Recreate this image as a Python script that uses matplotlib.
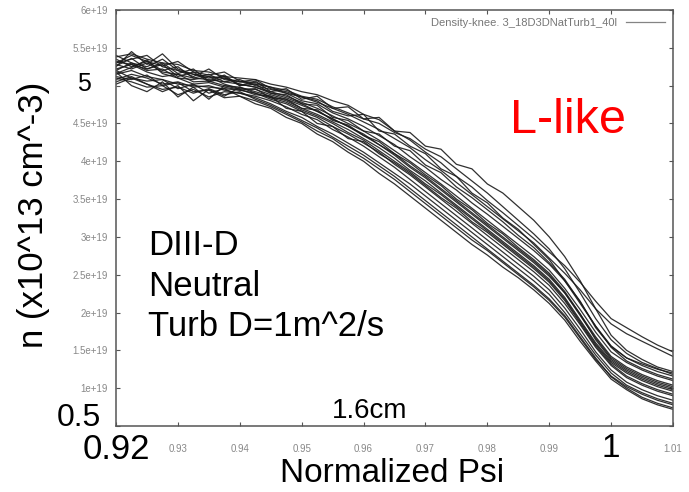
import matplotlib
matplotlib.use("Agg")
import matplotlib.pyplot as plt

plt.rcParams['font.family'] = ['Liberation Sans', 'DejaVu Sans']

# normalized psi grid shared by all profiles
psi = [0.9200, 0.9225, 0.9250, 0.9275, 0.9300, 0.9325, 0.9350, 0.9375, 0.9400,
       0.9425, 0.9450, 0.9475, 0.9500, 0.9525, 0.9550, 0.9575, 0.9600, 0.9625,
       0.9650, 0.9675, 0.9700, 0.9725, 0.9750, 0.9775, 0.9800, 0.9825, 0.9850,
       0.9875, 0.9900, 0.9925, 0.9950, 0.9975, 1.0000, 1.0025, 1.0050, 1.0075,
       1.0100]

# density profiles, units of 1e19 m^-3
n01 = [5.38, 5.42, 5.35, 5.30, 5.28, 5.20, 5.18, 5.12, 5.10, 5.08, 5.02, 4.98, 4.92,
       4.88, 4.80, 4.74, 4.62, 4.55, 4.40, 4.28, 4.12, 3.98, 3.80, 3.66, 3.48, 3.32,
       3.15, 2.98, 2.80, 2.62, 2.40, 2.15, 1.92, 1.80, 1.68, 1.57, 1.48]
n02 = [5.30, 5.35, 5.40, 5.25, 5.20, 5.15, 5.12, 5.10, 5.05, 5.02, 4.98, 4.90, 4.85,
       4.78, 4.70, 4.62, 4.52, 4.42, 4.30, 4.18, 4.02, 3.88, 3.72, 3.56, 3.40, 3.24,
       3.08, 2.92, 2.72, 2.52, 2.30, 2.05, 1.85, 1.72, 1.62, 1.52, 1.42]
n03 = [5.20, 5.30, 5.25, 5.35, 5.20, 5.12, 5.22, 5.08, 5.05, 5.08, 4.96, 4.92, 4.85,
       4.80, 4.66, 4.60, 4.62, 4.40, 4.36, 4.20, 4.10, 3.90, 3.80, 3.58, 3.45, 3.25,
       3.10, 2.90, 2.70, 2.42, 2.15, 1.80, 1.55, 1.40, 1.32, 1.25, 1.20]
n04 = [5.28, 5.22, 5.30, 5.18, 5.15, 5.10, 5.08, 5.05, 5.02, 4.98, 4.92, 4.86, 4.78,
       4.70, 4.60, 4.50, 4.40, 4.28, 4.14, 4.00, 3.85, 3.70, 3.54, 3.38, 3.22, 3.06,
       2.90, 2.74, 2.56, 2.32, 2.04, 1.74, 1.48, 1.34, 1.24, 1.16, 1.10]
n05 = [5.22, 5.28, 5.18, 5.12, 5.15, 5.05, 5.06, 5.00, 4.98, 4.92, 4.86, 4.80, 4.70,
       4.62, 4.52, 4.42, 4.30, 4.18, 4.04, 3.88, 3.74, 3.58, 3.42, 3.26, 3.10, 2.94,
       2.78, 2.62, 2.44, 2.20, 1.90, 1.60, 1.36, 1.22, 1.12, 1.04, 0.98]
n06 = [5.10, 5.05, 4.98, 5.00, 4.88, 4.95, 4.85, 4.92, 4.90, 4.86, 4.80, 4.72, 4.62,
       4.55, 4.42, 4.32, 4.20, 4.06, 3.92, 3.76, 3.60, 3.44, 3.28, 3.12, 2.96, 2.80,
       2.64, 2.48, 2.30, 2.06, 1.78, 1.48, 1.24, 1.08, 0.98, 0.90, 0.84]
n07 = [5.05, 5.12, 5.02, 4.95, 4.98, 4.90, 4.96, 4.88, 4.92, 4.82, 4.74, 4.64, 4.54,
       4.44, 4.32, 4.20, 4.08, 3.94, 3.80, 3.64, 3.48, 3.32, 3.16, 3.00, 2.84, 2.68,
       2.52, 2.36, 2.18, 1.96, 1.68, 1.40, 1.15, 1.00, 0.88, 0.80, 0.74]
n08 = [5.35, 5.25, 5.32, 5.20, 5.25, 5.10, 5.15, 5.05, 5.08, 5.00, 4.95, 4.90, 4.80,
       4.76, 4.64, 4.56, 4.46, 4.34, 4.22, 4.06, 3.92, 3.76, 3.62, 3.45, 3.30, 3.14,
       2.98, 2.82, 2.64, 2.42, 2.12, 1.82, 1.56, 1.40, 1.30, 1.22, 1.16]
n09 = [5.15, 5.20, 5.12, 5.08, 5.02, 5.00, 4.98, 4.96, 4.94, 4.90, 4.82, 4.76, 4.66,
       4.58, 4.46, 4.36, 4.24, 4.12, 3.96, 3.82, 3.66, 3.50, 3.34, 3.18, 3.02, 2.86,
       2.70, 2.54, 2.36, 2.12, 1.84, 1.54, 1.30, 1.14, 1.04, 0.96, 0.90]
n10 = [5.25, 5.45, 5.28, 5.42, 5.22, 5.15, 5.10, 5.12, 5.00, 5.02, 4.90, 4.84, 4.76,
       4.66, 4.56, 4.46, 4.36, 4.22, 4.10, 3.94, 3.80, 3.64, 3.48, 3.32, 3.16, 3.00,
       2.84, 2.68, 2.50, 2.26, 1.98, 1.68, 1.42, 1.28, 1.18, 1.10, 1.04]
n11 = [5.18, 5.00, 4.92, 5.05, 4.85, 4.98, 4.82, 5.00, 4.95, 4.88, 4.86, 4.70, 4.66,
       4.50, 4.46, 4.30, 4.26, 4.10, 3.98, 3.84, 3.68, 3.52, 3.38, 3.20, 3.06, 2.90,
       2.74, 2.58, 2.40, 2.16, 1.86, 1.56, 1.32, 1.16, 1.06, 0.98, 0.92]
n12 = [5.32, 5.28, 5.22, 5.28, 5.12, 5.18, 5.05, 5.10, 5.02, 4.98, 4.90, 4.88, 4.76,
       4.74, 4.58, 4.54, 4.40, 4.36, 4.20, 4.14, 3.95, 3.85, 3.66, 3.52, 3.36, 3.20,
       3.02, 2.86, 2.66, 2.44, 2.14, 1.82, 1.54, 1.36, 1.26, 1.18, 1.12]
n13 = [5.08, 5.15, 5.10, 5.02, 5.05, 4.98, 5.00, 4.94, 4.90, 4.84, 4.76, 4.66, 4.58,
       4.46, 4.36, 4.24, 4.12, 3.98, 3.84, 3.70, 3.54, 3.38, 3.22, 3.06, 2.90, 2.74,
       2.58, 2.42, 2.24, 2.00, 1.72, 1.44, 1.20, 1.04, 0.94, 0.86, 0.80]
n14 = [5.40, 5.30, 5.20, 5.22, 5.10, 5.08, 5.12, 5.02, 4.96, 4.95, 4.88, 4.82, 4.74,
       4.66, 4.56, 4.46, 4.34, 4.22, 4.08, 3.92, 3.78, 3.62, 3.46, 3.30, 3.14, 2.98,
       2.82, 2.66, 2.48, 2.26, 1.96, 1.66, 1.40, 1.26, 1.16, 1.08, 1.02]
n15 = [5.26, 5.36, 5.22, 5.30, 5.16, 5.22, 5.06, 5.14, 5.00, 5.06, 4.92, 4.96, 4.82,
       4.86, 4.70, 4.72, 4.56, 4.58, 4.40, 4.38, 4.20, 4.16, 3.96, 3.90, 3.70, 3.58,
       3.40, 3.22, 3.00, 2.74, 2.42, 2.05, 1.70, 1.50, 1.38, 1.28, 1.22]
n16 = [5.12, 5.08, 5.14, 5.00, 5.04, 4.92, 4.94, 4.84, 4.86, 4.76, 4.70, 4.58, 4.50,
       4.36, 4.26, 4.12, 4.00, 3.84, 3.70, 3.54, 3.38, 3.22, 3.06, 2.90, 2.76, 2.60,
       2.46, 2.30, 2.12, 1.90, 1.62, 1.36, 1.12, 0.98, 0.86, 0.78, 0.72]
n17 = [5.20, 5.10, 5.02, 4.92, 5.00, 4.80, 4.95, 4.86, 4.98, 4.90, 4.84, 4.78, 4.68,
       4.60, 4.50, 4.38, 4.28, 4.14, 4.00, 3.86, 3.70, 3.56, 3.40, 3.24, 3.08, 2.92,
       2.76, 2.60, 2.42, 2.18, 1.88, 1.58, 1.34, 1.20, 1.10, 1.02, 0.96]
n18 = [5.30, 5.40, 5.32, 5.26, 5.32, 5.18, 5.14, 5.18, 5.06, 5.04, 4.98, 4.94, 4.86,
       4.82, 4.72, 4.64, 4.56, 4.50, 4.38, 4.30, 4.16, 4.06, 3.90, 3.74, 3.58, 3.40,
       3.22, 3.04, 2.84, 2.58, 2.26, 1.92, 1.64, 1.46, 1.34, 1.26, 1.18]
n19 = [5.16, 5.24, 5.34, 5.16, 5.10, 5.02, 5.04, 4.98, 4.94, 4.96, 4.84, 4.82, 4.70,
       4.68, 4.54, 4.48, 4.34, 4.26, 4.10, 3.98, 3.82, 3.68, 3.50, 3.36, 3.18, 3.04,
       2.86, 2.70, 2.52, 2.28, 1.98, 1.64, 1.38, 1.24, 1.14, 1.06, 1.00]
n20 = [5.02, 5.10, 5.06, 5.08, 4.96, 5.02, 4.90, 4.96, 4.86, 4.80, 4.72, 4.62, 4.52,
       4.40, 4.30, 4.16, 4.04, 3.90, 3.76, 3.60, 3.44, 3.28, 3.12, 2.96, 2.82, 2.66,
       2.50, 2.34, 2.16, 1.94, 1.66, 1.38, 1.16, 1.02, 0.92, 0.84, 0.78]
profiles = [n01, n02, n03, n04, n05, n06, n07, n08, n09, n10,
            n11, n12, n13, n14, n15, n16, n17, n18, n19, n20]

xticks = [0.92, 0.93, 0.94, 0.95, 0.96, 0.97, 0.98, 0.99, 1.00, 1.01]
xticklabels = ['', '0.93', '0.94', '0.95', '0.96', '0.97', '0.98', '0.99', '', '1.01']
yticks = [0.5, 1.0, 1.5, 2.0, 2.5, 3.0, 3.5, 4.0, 4.5, 5.0, 5.5, 6.0]
yticklabels = ['', '1e+19', '1.5e+19', '2e+19', '2.5e+19', '3e+19', '3.5e+19',
               '4e+19', '4.5e+19', '', '5.5e+19', '6e+19']
legend_label = 'Density-knee. 3_18D3DNatTurb1_40l'

fig = plt.figure(figsize=(6.89, 4.92), dpi=100)
ax = fig.add_axes([0.1684, 0.1341, 0.8084, 0.8456])

for i, n in enumerate(profiles):
    ax.plot(psi, n, color='#1a1a1a', lw=0.9, alpha=0.9,
            label=legend_label if i == 0 else None)

ax.set_xlim(0.92, 1.01)
ax.set_ylim(0.5, 6.0)
ax.set_xticks(xticks)
ax.set_xticklabels(xticklabels)
ax.set_yticks(yticks)
ax.set_yticklabels(yticklabels)
ax.tick_params(direction='in', length=3, width=0.8, color='#555555',
               labelsize=7, labelcolor='#888888', top=True, right=True)
ax.tick_params(axis='x', pad=13)
ax.tick_params(axis='y', pad=6)
for s in ax.spines.values():
    s.set_color('#555555')
    s.set_linewidth(1.1)

leg = ax.legend(loc='upper right', frameon=False, fontsize=8, handlelength=3.5,
                borderaxespad=0.3, handletextpad=0.8, markerfirst=False)
for t in leg.get_texts():
    t.set_color('#777777')
for h in leg.get_lines():
    h.set_color('#777777')

# overlay annotations
fig.text(0.1219, 0.8293, '5', fontsize=18, ha='center', va='center')
fig.text(0.1147, 0.1504, '0.5', fontsize=23, ha='center', va='center')
fig.text(0.1684, 0.0854, '0.92', fontsize=25, ha='center', va='center')
fig.text(0.8868, 0.0874, '1', fontsize=24, ha='center', va='center')
fig.text(0.0479, 0.563, 'n (x10^13 cm^-3)', fontsize=25, rotation=90,
         ha='center', va='center')
fig.text(0.569, 0.038, 'Normalized Psi', fontsize=24, ha='center', va='center')
fig.text(0.2148, 0.502, 'DIII-D', fontsize=25, ha='left', va='center')
fig.text(0.2148, 0.4167, 'Neutral', fontsize=25, ha='left', va='center')
fig.text(0.2148, 0.3354, 'Turb D=1m^2/s', fontsize=25, ha='left', va='center')
fig.text(0.537, 0.165, '1.6cm', fontsize=20, ha='center', va='center')
fig.text(0.740, 0.756, 'L-like', fontsize=35, color='red', ha='left', va='center')

fig.savefig('out.png', dpi=100)
